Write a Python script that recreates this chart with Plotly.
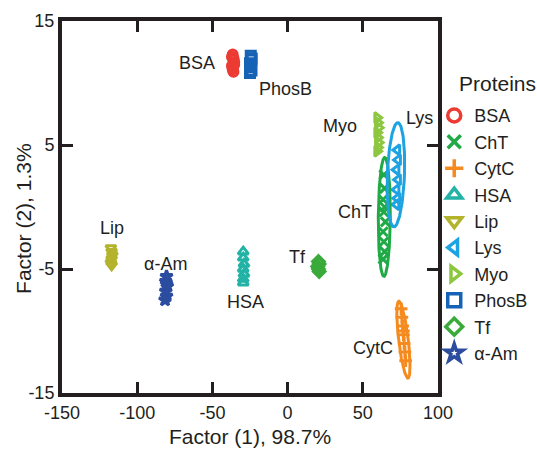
import numpy as np
import plotly.graph_objects as go

proteins = ["BSA", "ChT", "CytC", "HSA", "Lip", "Lys", "Myo", "PhosB", "Tf", "α-Am"]
colors = ["#ec3b33", "#1faa45", "#f58a1f", "#22b3a6", "#b3b32c", "#1da3e2", "#8dc63f", "#1663b6", "#3aaa3a", "#2b4c9f"]
symbols = ["circle-open", "x-thin-open", "cross-thin-open", "triangle-up-open", "triangle-down-open",
           "triangle-left-open", "triangle-right-open", "square-open", "diamond-open", "star-open"]

# replicate scores (Factor 1, Factor 2)
x_vals = {
    "BSA":   [-36.5, -36, -35.5, -37, -36.5, -36, -35.5, -36.5, -36, -37],
    "ChT":   [64, 64.5, 63.5, 64, 65, 63.5, 64, 64.5, 63.5, 64.5],
    "CytC":  [75.5, 76, 76.5, 77, 77.5, 78, 78.5, 77],
    "HSA":   [-29.5, -29.5, -29, -29.5, -29, -29.5, -29.5],
    "Lip":   [-117.5, -117, -116.5, -117, -117.5, -117],
    "Lys":   [73, 73.5, 72.5, 73.5, 72.5, 73, 72.5],
    "Myo":   [59.5, 60, 60.5, 59.5, 60, 60.5, 60, 59.5],
    "PhosB": [-24.5, -24, -25, -24.5, -24, -25, -24.5, -24],
    "Tf":    [20.5, 21, 20, 20.5, 21],
    "α-Am":  [-80.5, -81, -80, -81, -80.5, -81.5, -80.5],
}
y_vals = {
    "BSA":   [12.3, 12.0, 11.7, 11.4, 11.1, 11.9, 11.5, 11.2, 10.9, 12.1],
    "ChT":   [2.6, 1.5, 0.6, -0.4, -1.2, -2.0, -2.8, -3.6, -4.2, 0.0],
    "CytC":  [-8.2, -8.9, -9.6, -10.3, -11.0, -11.7, -12.4, -10.0],
    "HSA":   [-3.6, -4.1, -4.6, -5.0, -5.4, -5.8, -6.1],
    "Lip":   [-3.3, -3.6, -3.9, -4.2, -4.5, -4.7],
    "Lys":   [4.6, 3.8, 3.0, 2.2, 1.4, 0.7, 0.2],
    "Myo":   [7.2, 6.8, 6.4, 6.0, 5.6, 5.2, 4.8, 4.5],
    "PhosB": [12.2, 11.9, 11.6, 11.3, 11.0, 10.8, 11.5, 12.0],
    "Tf":    [-4.4, -4.6, -4.8, -5.0, -5.2],
    "α-Am":  [-5.6, -6.0, -6.4, -6.8, -7.2, -7.5, -6.2],
}
# confidence ellipses: center, major half-axis vector (dx, dy), minor half-width in x
ell_names = ["ChT", "Lys", "CytC"]
ell_cx = [64.3, 72.0, 77.0]
ell_cy = [-0.8, 2.6, -10.7]
ell_mdx = [0.3, 1.3, -3.0]
ell_mdy = [4.8, 4.2, 3.1]
ell_rx = [4.0, 5.7, 3.2]

label_names = ["BSA", "PhosB", "Myo", "Lys", "ChT", "Tf", "Lip", "α-Am", "HSA", "CytC"]
label_x = [-60, -1.5, 35, 87.5, 45, 6.5, -116.5, -81, -28, 56.5]
label_y = [11.6, 9.5, 6.5, 7.2, -0.4, -4.0, -1.7, -4.6, -7.7, -11.4]

ink = "#231f20"
fig = go.Figure()
for p, c, s in zip(proteins, colors, symbols):
    fig.add_trace(go.Scatter(
        x=x_vals[p], y=y_vals[p], mode="markers", name=p, legendgroup=p, showlegend=False,
        marker=dict(symbol=s, size=9, color=c, line=dict(color=c, width=3)),
    ))
    # legend entry with a larger symbol
    fig.add_trace(go.Scatter(
        x=[None], y=[None], mode="markers", name=p, legendgroup=p,
        marker=dict(symbol=s, size=13, color=c, line=dict(color=c, width=3.5)),
    ))

t = np.linspace(0, 2 * np.pi, 200)
for n, cx, cy, mdx, mdy, rx in zip(ell_names, ell_cx, ell_cy, ell_mdx, ell_mdy, ell_rx):
    c = colors[proteins.index(n)]
    ex = cx + mdx * np.sin(t) + rx * np.cos(t)
    ey = cy + mdy * np.sin(t)
    fig.add_trace(go.Scatter(x=ex, y=ey, mode="lines", showlegend=False,
                             line=dict(color=c, width=3), hoverinfo="skip"))

for n, lx, ly in zip(label_names, label_x, label_y):
    fig.add_annotation(x=lx, y=ly, text=n, showarrow=False,
                       font=dict(size=18, color=ink))

fig.add_annotation(xref="paper", yref="paper", x=1.05, y=0.832, xanchor="left", yanchor="middle",
                   text="Proteins", showarrow=False, font=dict(size=21, color=ink))
fig.add_annotation(xref="paper", yref="paper", x=-0.101, y=0.468, xanchor="center", yanchor="middle",
                   text="Factor (2), 1.3%", textangle=-90, showarrow=False, font=dict(size=21, color=ink))

axis_common = dict(
    showline=True, linecolor=ink, linewidth=4, mirror="ticks",
    ticks="inside", ticklen=11, tickwidth=3, tickcolor=ink,
    showgrid=False, zeroline=False, automargin=False,
    tickfont=dict(size=18, color=ink),
)
x_ticks = [-150, -100, -50, 0, 50, 100]
y_ticks = [-15, -5, 5, 15]
fig.update_xaxes(range=[-150, 100], tickvals=x_ticks, ticktext=[str(v) for v in x_ticks],
                 title=dict(text="Factor (1), 98.7%", font=dict(size=21, color=ink), standoff=9),
                 **axis_common)
fig.update_yaxes(range=[-15, 15], tickvals=y_ticks, ticktext=[str(v) for v in y_ticks],
                 **axis_common)

fig.update_layout(
    width=537, height=452,
    margin=dict(l=62, r=99, t=21, b=59, autoexpand=False),
    paper_bgcolor="white", plot_bgcolor="white",
    font=dict(family="Liberation Sans, Arial, sans-serif", color=ink),
    legend=dict(font=dict(size=18, color=ink), x=0.99, y=0.795, xanchor="left", yanchor="top",
                itemwidth=30, tracegroupgap=0, bgcolor="rgba(0,0,0,0)"),
    showlegend=True,
)
fig.write_html("out.html", config={"displayModeBar": False},
               post_script="document.body.style.margin='0px';")
